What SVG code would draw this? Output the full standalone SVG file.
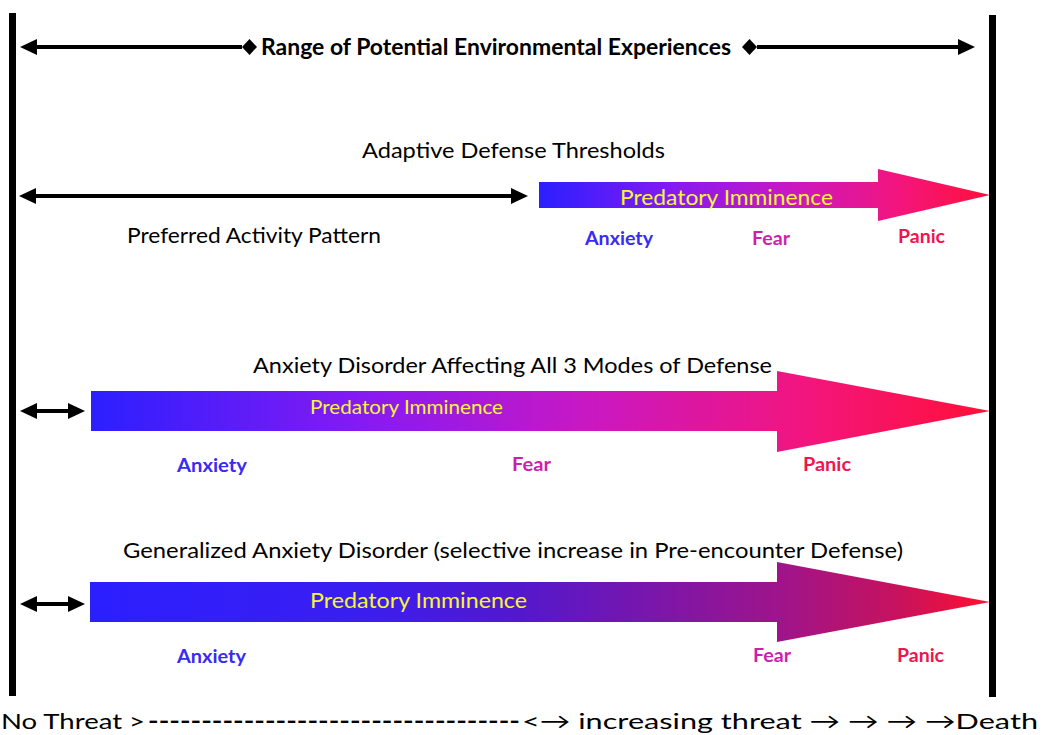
<svg xmlns="http://www.w3.org/2000/svg" width="1045" height="735" viewBox="0 0 1045 735">
<style>
.t{font-family:Lato,"Open Sans","Liberation Sans",sans-serif;font-size:22px;fill:#000}
.b{font-weight:bold}
.pi{font-family:Lato,"Open Sans","Liberation Sans",sans-serif;fill:#f5f53a}
.lbl{font-family:Lato,"Open Sans","Liberation Sans",sans-serif;font-weight:bold;font-size:19.5px}
.anx{fill:#3a2af5}
.fear{fill:#cc1fae}
.panic{fill:#f01450}
.conn{stroke:#000;stroke-width:4;fill:none}
.bar{fill:#000}
</style>
<defs>
<marker id="ah" markerUnits="userSpaceOnUse" markerWidth="18" markerHeight="17" refX="0" refY="8" orient="auto-start-reverse" viewBox="0 0 18 17">
<path d="M0,0 L17,8 L0,16 Z" fill="#000"/>
</marker>
<marker id="dm" markerUnits="userSpaceOnUse" markerWidth="16" markerHeight="17" refX="0" refY="8" orient="auto-start-reverse" viewBox="0 0 16 17">
<path d="M0,8 L7.5,0 L15,8 L7.5,16 Z" fill="#000"/>
</marker>
<linearGradient id="g1" x1="0" y1="0" x2="1" y2="0">
<stop offset="0" stop-color="#2b1fff"/>
<stop offset="0.3" stop-color="#861af2"/>
<stop offset="0.55" stop-color="#c818c4"/>
<stop offset="0.8" stop-color="#f3157c"/>
<stop offset="1" stop-color="#ff1038"/>
</linearGradient>
<linearGradient id="g3" x1="0" y1="0" x2="1" y2="0">
<stop offset="0" stop-color="#2b1fff"/>
<stop offset="0.3" stop-color="#3a1ef0"/>
<stop offset="0.48" stop-color="#5418cc"/>
<stop offset="0.77" stop-color="#a0148a"/>
<stop offset="0.9" stop-color="#c8125c"/>
<stop offset="1" stop-color="#ff1030"/>
</linearGradient>
</defs>

<g id="axes">
<rect class="bar" x="9" y="13" width="7" height="683"/>
<rect class="bar" x="989" y="15" width="7" height="682"/>
</g>

<g id="connectors">
<line class="conn" x1="37" y1="47" x2="242" y2="47" marker-start="url(#ah)" marker-end="url(#dm)"/>
<line class="conn" x1="757" y1="47" x2="958" y2="47" marker-start="url(#dm)" marker-end="url(#ah)"/>
<line class="conn" x1="36" y1="196" x2="511" y2="196" marker-start="url(#ah)" marker-end="url(#ah)"/>
<line class="conn" x1="37" y1="411" x2="68" y2="411" marker-start="url(#ah)" marker-end="url(#ah)"/>
<line class="conn" x1="37" y1="604" x2="68" y2="604" marker-start="url(#ah)" marker-end="url(#ah)"/>
</g>

<g id="range">
<text class="t b" x="261" y="55" textLength="470" lengthAdjust="spacingAndGlyphs">Range of Potential Environmental Experiences</text>
</g>

<g id="adaptive">
<text class="t" x="362" y="158" textLength="303" lengthAdjust="spacingAndGlyphs">Adaptive Defense Thresholds</text>
<text class="t" x="127" y="243" textLength="254" lengthAdjust="spacingAndGlyphs">Preferred Activity Pattern</text>
<path d="M539,182 H878 V169 L990,195 L878,221 V208 H539 Z" fill="url(#g1)"/>
<text class="pi" x="620" y="205" font-size="22" textLength="213" lengthAdjust="spacingAndGlyphs">Predatory Imminence</text>
<text class="lbl anx" x="585" y="245" textLength="68" lengthAdjust="spacingAndGlyphs">Anxiety</text>
<text class="lbl fear" x="752" y="245" textLength="38" lengthAdjust="spacingAndGlyphs">Fear</text>
<text class="lbl panic" x="898" y="243" textLength="47" lengthAdjust="spacingAndGlyphs">Panic</text>
</g>

<g id="disorder">
<text class="t" x="253" y="373" textLength="519" lengthAdjust="spacingAndGlyphs">Anxiety Disorder Affecting All 3 Modes of Defense</text>
<path d="M91,391 H777 V371 L990,411 L777,452 V431 H91 Z" fill="url(#g1)"/>
<text class="pi" x="310" y="414" font-size="20" textLength="193" lengthAdjust="spacingAndGlyphs">Predatory Imminence</text>
<text class="lbl anx" x="177" y="472" textLength="70" lengthAdjust="spacingAndGlyphs">Anxiety</text>
<text class="lbl fear" x="512" y="471" textLength="39" lengthAdjust="spacingAndGlyphs">Fear</text>
<text class="lbl panic" x="803" y="471" textLength="48" lengthAdjust="spacingAndGlyphs">Panic</text>
</g>

<g id="gad">
<text class="t" x="123" y="558" textLength="780" lengthAdjust="spacingAndGlyphs">Generalized Anxiety Disorder (selective increase in Pre-encounter Defense)</text>
<path d="M90,582 H777 V562 L990,602 L777,642 V622 H90 Z" fill="url(#g3)"/>
<text class="pi" x="310" y="608" font-size="22" textLength="217" lengthAdjust="spacingAndGlyphs">Predatory Imminence</text>
<text class="lbl anx" x="177" y="663" textLength="69" lengthAdjust="spacingAndGlyphs">Anxiety</text>
<text class="lbl fear" x="753" y="662" textLength="38" lengthAdjust="spacingAndGlyphs">Fear</text>
<text class="lbl panic" x="897" y="662" textLength="47" lengthAdjust="spacingAndGlyphs">Panic</text>
</g>

<g id="scale">
<text class="t" font-size="27" y="729"><tspan x="1" textLength="144" lengthAdjust="spacingAndGlyphs">No Threat &gt;</tspan><tspan x="148" textLength="372" lengthAdjust="spacingAndGlyphs" font-weight="bold">-----------------------------------</tspan><tspan x="522" textLength="516" lengthAdjust="spacingAndGlyphs">&lt;→ increasing threat → → → →Death</tspan></text>
</g>
</svg>
